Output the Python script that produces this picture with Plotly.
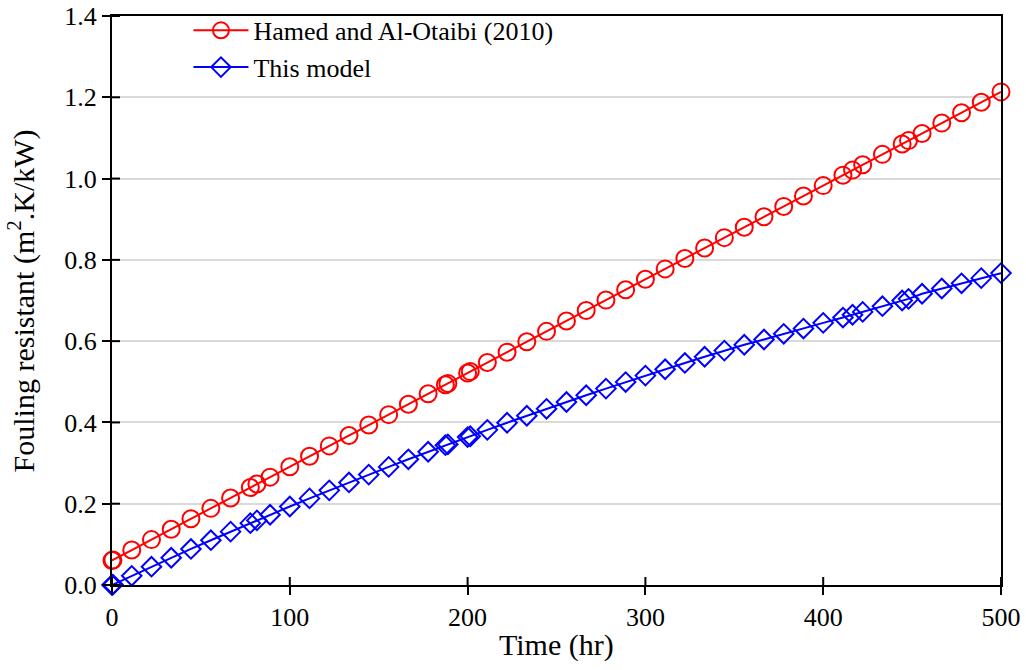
import plotly.graph_objects as go

# Time (hr)
time_hr = [0, 0.5, 11.1, 22.2, 33.3, 44.4, 55.6, 66.7, 77.8, 81.5, 88.9, 100,
           111.1, 122.2, 133.3, 144.4, 155.6, 166.7, 177.8, 187.5, 188.9, 200, 201.5,
           211.1, 222.2, 233.3, 244.4, 255.6, 266.7, 277.8, 288.9, 300,
           311.1, 322.2, 333.3, 344.4, 355.6, 366.7, 377.8, 388.9, 400,
           411.1, 416.5, 422.2, 433.3, 444.4, 448, 455.6, 466.7, 477.8, 488.9, 500]

# Hamed and Al-Otaibi (2010)
hamed = [0.0605, 0.0617, 0.0861, 0.1117, 0.1373, 0.1630, 0.1886, 0.2142, 0.2398, 0.2484, 0.2654, 0.2911,
         0.3167, 0.3423, 0.3679, 0.3935, 0.4192, 0.4448, 0.4704, 0.4928, 0.4960, 0.5216, 0.5251,
         0.5473, 0.5729, 0.5985, 0.6241, 0.6497, 0.6754, 0.7010, 0.7266, 0.7522,
         0.7778, 0.8034, 0.8291, 0.8547, 0.8803, 0.9059, 0.9315, 0.9572, 0.9827,
         1.0084, 1.0208, 1.0340, 1.0596, 1.0852, 1.0934, 1.1108, 1.1365, 1.1621, 1.1877, 1.2133]

# This model
model = [0.0, 0.001, 0.0226, 0.0450, 0.0670, 0.0887, 0.1102, 0.1313, 0.1522, 0.1590, 0.1728, 0.1931,
         0.2131, 0.2329, 0.2524, 0.2716, 0.2906, 0.3093, 0.3278, 0.3440, 0.3460, 0.3640, 0.3660,
         0.3817, 0.3992, 0.4164, 0.4335, 0.4503, 0.4668, 0.4832, 0.4993, 0.5152,
         0.5309, 0.5464, 0.5616, 0.5767, 0.5912, 0.6040, 0.6180, 0.6310, 0.6450,
         0.6580, 0.6650, 0.6720, 0.6860, 0.7000, 0.7040, 0.7166, 0.7295, 0.7423, 0.7550, 0.7674]

x_ticks = [0, 100, 200, 300, 400, 500]
y_ticks = [0.0, 0.2, 0.4, 0.6, 0.8, 1.0, 1.2, 1.4]

FONT = "Liberation Serif"

fig = go.Figure()
fig.add_trace(go.Scatter(
    x=time_hr, y=hamed, mode="lines+markers", name="Hamed and Al-Otaibi (2010)",
    line=dict(color="#FF0000", width=2), cliponaxis=False,
    marker=dict(symbol="circle-open", size=17, color="#FF0000", line=dict(width=2, color="#FF0000")),
))
fig.add_trace(go.Scatter(
    x=time_hr, y=model, mode="lines+markers", name="This model",
    line=dict(color="#0000FF", width=2), cliponaxis=False,
    marker=dict(symbol="diamond-open", size=15, color="#0000FF", line=dict(width=2, color="#0000FF")),
))

# inner half of the crossing tick marks (outer half drawn by the axes)
shapes = []
for xv in x_ticks:
    shapes.append(dict(type="line", xref="x", yref="paper", ysizemode="pixel", yanchor=0,
                       x0=xv, x1=xv, y0=0, y1=8, line=dict(color="black", width=2), layer="above"))
for yv in y_ticks:
    shapes.append(dict(type="line", xref="paper", yref="y", xsizemode="pixel", xanchor=0,
                       x0=0, x1=8, y0=yv, y1=yv, line=dict(color="black", width=2), layer="above"))

fig.update_layout(
    width=1026, height=670,
    margin=dict(l=112, r=25, t=16, b=85, autoexpand=False),
    paper_bgcolor="white", plot_bgcolor="white",
    font=dict(family=FONT, size=26, color="black"),
    showlegend=True,
    legend=dict(x=0.086, y=1.016, xanchor="left", yanchor="top",
                bgcolor="rgba(255,255,255,0)", font=dict(size=26, family=FONT),
                tracegroupgap=0, itemwidth=55),
    shapes=shapes,
    annotations=[
        dict(text="Time (hr)", xref="paper", yref="paper", x=0.5, y=-0.1054,
             xanchor="center", yanchor="middle", showarrow=False,
             font=dict(size=30, family=FONT, color="black")),
        dict(text="Fouling resistant (m<sup>2</sup>.K/kW)", xref="paper", yref="paper",
             x=-0.1013, y=0.5, xanchor="center", yanchor="middle", textangle=-90,
             showarrow=False, font=dict(size=30, family=FONT, color="black")),
    ],
    xaxis=dict(range=[0, 500], tickvals=x_ticks, ticks="outside", ticklen=8, tickwidth=2,
               tickcolor="black", showline=True, linecolor="black", linewidth=2, mirror=True,
               showgrid=False, zeroline=False, automargin=False,
               tickfont=dict(size=26, family=FONT)),
    yaxis=dict(range=[0, 1.4], tickvals=y_ticks, tickformat=".1f", ticks="outside", ticklen=8,
               tickwidth=2, tickcolor="black", showline=True, linecolor="black", linewidth=2,
               mirror=True, showgrid=True, gridcolor="#d9d9d9", gridwidth=2, zeroline=False,
               automargin=False,
               tickfont=dict(size=26, family=FONT)),
)

fig.write_html("out.html")
